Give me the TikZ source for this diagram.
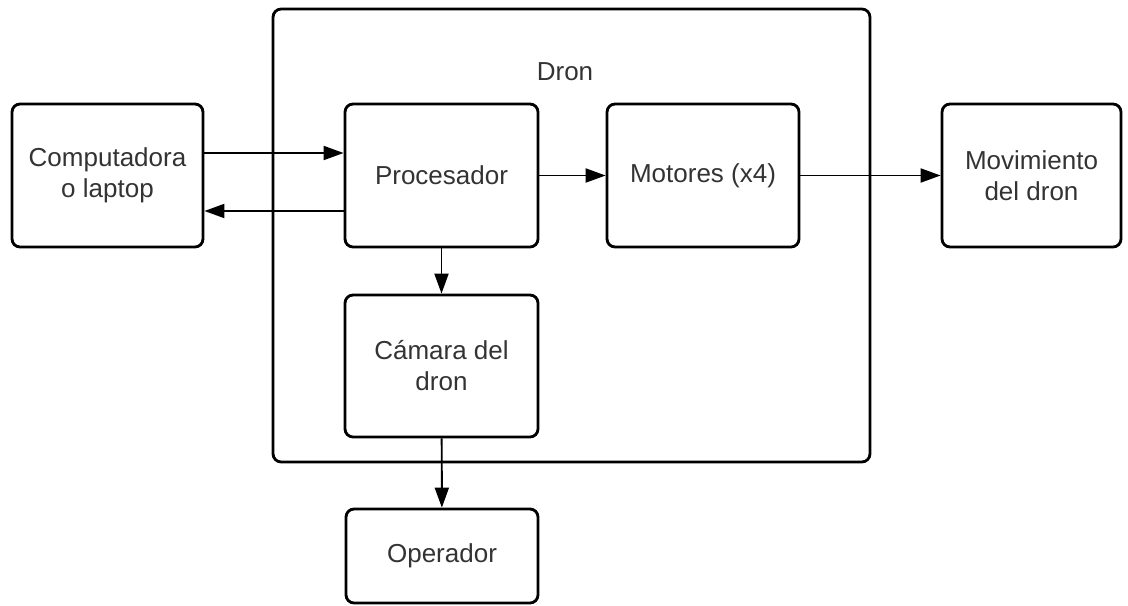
\documentclass[tikz,border=0pt]{standalone}
\usepackage{fontspec}
\setmainfont{Liberation Sans}
\usetikzlibrary{arrows.meta}
\definecolor{txtgray}{HTML}{333333}

\begin{document}
\begin{tikzpicture}[x=0.02cm,y=-0.02cm,
    font=\fontsize{14.8}{17.6}\selectfont,
    bloque/.style={draw,line width=1.6pt,rounded corners=0.16cm,align=center,
        text=txtgray,inner sep=0pt},
    flecha/.style={line width=1.1pt,-{Triangle[length=0.4cm,width=0.28cm]}}]

            \useasboundingbox (0,0) rectangle (1128,605);

            % outer box
            \node[bloque, minimum width=11.94cm, minimum height=9.06cm] (dron) at (571.5,235.5) {};
            \node[text=txtgray] (dronlbl) at (565,72) {Dron};

            % blocks
            \node[bloque, minimum width=3.82cm, minimum height=2.86cm] (comp) at (107.5,175.5) {Computadora\\o laptop};
            \node[bloque, minimum width=3.86cm, minimum height=2.86cm] (proc) at (441.5,175.5) {Procesador};
            \node[bloque, minimum width=3.84cm, minimum height=2.86cm] (mot) at (703,175.5) {Motores (x4)};
            \node[bloque, minimum width=3.58cm, minimum height=2.86cm] (mov) at (1031.5,175.5) {Movimiento\\del dron};
            \node[bloque, minimum width=3.86cm, minimum height=2.84cm] (cam) at (441.5,366) {Cámara del\\dron};
            \node[bloque, minimum width=3.84cm, minimum height=1.88cm] (oper) at (442,556) {Operador};

            % arrows
            \draw[flecha] ([yshift=0.45cm]comp.east) -- ([yshift=0.45cm]proc.west);
            \draw[flecha] ([yshift=-0.71cm]proc.west) -- ([yshift=-0.71cm]comp.east);
            \draw[flecha] (proc) -- (mot);
            \draw[flecha] (mot) -- (mov);
            \draw[flecha] (proc) -- (cam);
            \draw[flecha] (cam) -- (oper);

        \end{tikzpicture}
\end{document}
